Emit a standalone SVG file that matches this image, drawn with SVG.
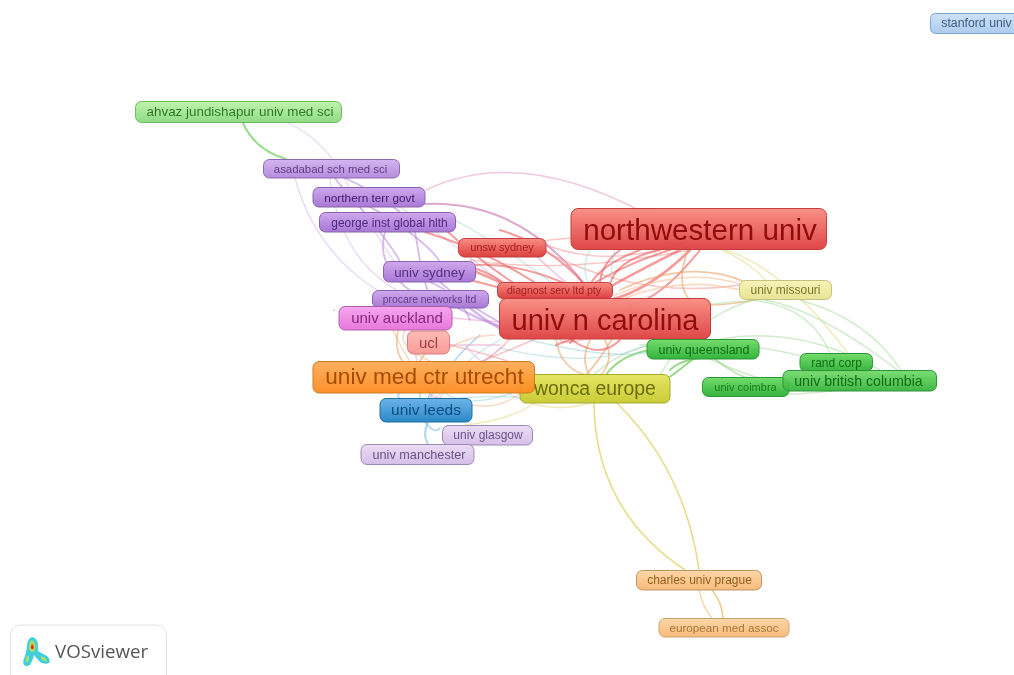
<svg xmlns="http://www.w3.org/2000/svg" width="1014" height="675" viewBox="0 0 1014 675">
<style>
.n{stroke-width:1;}
text.l{font-family:"Liberation Sans",Arial,sans-serif;text-anchor:middle;}
#edges path{fill:none;stroke-linecap:round;}
.r{stroke:#ec5a5a;stroke-opacity:.6;stroke-width:2}
.rl{stroke:#f0908c;stroke-opacity:.5;stroke-width:1.5}
.o{stroke:#eaa468;stroke-opacity:.6;stroke-width:1.7}
.ol{stroke:#f3c09a;stroke-opacity:.6;stroke-width:1.5}
.p{stroke:#b98be0;stroke-opacity:.6;stroke-width:1.7}
.pl{stroke:#d4b8ec;stroke-opacity:.55;stroke-width:1.3}
.m{stroke:#e884d0;stroke-opacity:.45;stroke-width:1.6}
.b{stroke:#7cb8ea;stroke-opacity:.6;stroke-width:1.5}
.t{stroke:#9fd4d8;stroke-opacity:.55;stroke-width:1.3}
.g{stroke:#74cc62;stroke-opacity:.75;stroke-width:1.9}
.gl{stroke:#a9dda0;stroke-opacity:.55;stroke-width:1.4}
.y{stroke:#e2d774;stroke-opacity:.85;stroke-width:1.6}
.yl{stroke:#e6e39a;stroke-opacity:.7;stroke-width:1.4}
.pk{stroke:#e79ac6;stroke-opacity:.55;stroke-width:1.6}
</style>
<defs>
<filter id="soft" x="-2%" y="-2%" width="104%" height="104%"><feGaussianBlur stdDeviation=".45"/></filter>
<linearGradient id="gr" x1="0" y1="0" x2="0" y2="1"><stop offset="0" stop-color="#f98c82"/><stop offset="1" stop-color="#dd4040"/></linearGradient>
<linearGradient id="gp" x1="0" y1="0" x2="0" y2="1"><stop offset="0" stop-color="#cfa8ee"/><stop offset="1" stop-color="#a878d6"/></linearGradient>
<linearGradient id="gpl" x1="0" y1="0" x2="0" y2="1"><stop offset="0" stop-color="#ebdcf6"/><stop offset="1" stop-color="#d5bfe8"/></linearGradient>
<linearGradient id="gm" x1="0" y1="0" x2="0" y2="1"><stop offset="0" stop-color="#f6a6f0"/><stop offset="1" stop-color="#e878dc"/></linearGradient>
<linearGradient id="gs" x1="0" y1="0" x2="0" y2="1"><stop offset="0" stop-color="#ffbcb8"/><stop offset="1" stop-color="#f89c98"/></linearGradient>
<linearGradient id="go" x1="0" y1="0" x2="0" y2="1"><stop offset="0" stop-color="#ffab55"/><stop offset="1" stop-color="#fb8a1e"/></linearGradient>
<linearGradient id="gy" x1="0" y1="0" x2="0" y2="1"><stop offset="0" stop-color="#e3e45c"/><stop offset="1" stop-color="#c7c92c"/></linearGradient>
<linearGradient id="gb" x1="0" y1="0" x2="0" y2="1"><stop offset="0" stop-color="#6cb4e8"/><stop offset="1" stop-color="#2b88c8"/></linearGradient>
<linearGradient id="gg" x1="0" y1="0" x2="0" y2="1"><stop offset="0" stop-color="#74dc6c"/><stop offset="1" stop-color="#35b43c"/></linearGradient>
<linearGradient id="ggl" x1="0" y1="0" x2="0" y2="1"><stop offset="0" stop-color="#c2f2ae"/><stop offset="1" stop-color="#8fdc84"/></linearGradient>
<linearGradient id="gkh" x1="0" y1="0" x2="0" y2="1"><stop offset="0" stop-color="#f7f4b8"/><stop offset="1" stop-color="#e8e494"/></linearGradient>
<linearGradient id="gor" x1="0" y1="0" x2="0" y2="1"><stop offset="0" stop-color="#fdd6a8"/><stop offset="1" stop-color="#f8bb7c"/></linearGradient>
<linearGradient id="gsb" x1="0" y1="0" x2="0" y2="1"><stop offset="0" stop-color="#cfe2f6"/><stop offset="1" stop-color="#acccee"/></linearGradient>
</defs>
<rect width="1014" height="675" fill="#fff"/>
<g filter="url(#soft)">
<g id="edges">
<path class="g" d="M243 123Q255 150 286 159"/>
<path class="pl" d="M288 123Q325 140 345 180Q362 215 395 262"/>
<path class="p" d="M335 178Q345 195 385 215Q430 245 440 262"/>
<path class="p" d="M345 178Q372 190 400 212"/>
<path class="pl" d="M330 178Q340 260 400 292"/>
<path class="p" d="M360 207Q395 250 400 262"/>
<path class="p" d="M385 232Q375 265 412 292"/>
<path class="p" d="M415 232Q420 260 420 262"/>
<path class="pl" d="M295 178Q320 270 415 310"/>
<path class="pl" d="M400 207Q450 240 510 290"/>
<path class="t" d="M455 220Q510 250 575 300"/>
<path class="pk" d="M426 190Q520 145 650 216"/>
<path class="r" style="stroke:#c86ca8" d="M425 204Q520 200 585 285"/>
<path class="r" d="M425 232Q500 255 560 300"/>
<path class="r" d="M448 232Q490 270 540 300"/>
<path class="r" d="M476 265Q520 262 580 290"/>
<path class="r" d="M470 280Q510 290 540 300"/>
<path class="r" style="stroke-width:2.6" d="M476 272Q510 285 530 300"/>
<path class="r" d="M474 268Q505 278 520 300"/>
<path class="pk" d="M530 250Q560 280 590 300"/>
<path class="r" d="M500 230Q550 245 585 285"/>
<path class="rl" d="M546 245Q610 270 690 240"/>
<path class="rl" d="M465 257Q560 230 640 240"/>
<path class="rl" d="M470 260Q560 275 690 250"/>
<path class="rl" d="M546 252Q640 300 740 285"/>
<path class="r" style="stroke-width:2.8" d="M690 250Q650 290 610 300"/>
<path class="r" style="stroke-width:2.6" d="M680 250Q630 275 590 298"/>
<path class="r" d="M670 250Q620 265 570 298"/>
<path class="r" d="M660 250Q615 260 610 285"/>
<path class="r" d="M640 250Q600 265 590 285"/>
<path class="r" d="M700 250Q660 300 630 305"/>
<path class="r" d="M620 250Q600 265 600 285"/>
<path class="t" d="M590 250Q580 270 590 285"/>
<path class="t" d="M615 250Q610 265 612 285"/>
<path class="o" d="M688 250Q675 285 690 300"/>
<path class="o" d="M745 282Q690 258 620 290"/>
<path class="ol" d="M745 286Q690 265 615 295"/>
<path class="o" d="M755 300Q700 310 680 300"/>
<path class="ol" d="M740 290Q680 275 620 300"/>
<path class="yl" d="M722 250Q755 265 768 284"/>
<path class="yl" d="M725 250Q790 270 860 370"/>
<path class="gl" d="M705 305Q740 300 748 302"/>
<path class="gl" d="M660 375Q690 320 752 300"/>
<path class="gl" d="M765 300Q820 310 900 372"/>
<path class="gl" d="M750 300Q810 305 830 353"/>
<path class="gl" d="M800 300Q870 320 902 372"/>
<path class="gl" d="M720 339Q800 325 880 370"/>
<path class="gl" d="M640 345Q760 335 850 372"/>
<path class="gl" d="M710 359Q800 400 860 388"/>
<path class="gl" d="M760 395Q800 395 840 390"/>
<path class="g" style="stroke-opacity:.45" d="M715 359Q740 378 750 378"/>
<path class="g" d="M694 358Q680 370 668 378"/>
<path class="g" d="M650 350Q620 355 605 376"/>
<path class="g" d="M670 370Q680 360 702 358"/>
<path class="gl" d="M655 344Q620 350 590 378"/>
<path class="t" d="M500 348Q590 370 648 345"/>
<path class="t" d="M530 340Q610 360 650 352"/>
<path class="o" d="M590 340Q580 360 590 376"/>
<path class="o" d="M605 340Q615 360 600 376"/>
<path class="o" d="M556 339Q560 370 590 376"/>
<path class="o" d="M612 339Q600 360 585 376"/>
<path class="rl" d="M560 340Q565 345 590 338"/>
<path class="r" d="M556 345L575 338L570 343"/>
<path class="r" d="M620 340Q600 360 572 340"/>
<path class="rl" d="M510 339Q480 370 470 362"/>
<path class="rl" d="M535 339Q510 350 480 362"/>
<path class="t" d="M500 340Q460 360 440 398"/>
<path class="b" d="M480 335Q450 360 430 398"/>
<path class="pl" d="M505 345Q470 370 435 398"/>
<path class="pk" d="M450 345L500 345"/>
<path class="m" d="M452 318L499 322"/>
<path class="p" style="stroke-width:2.4" d="M470 308Q485 320 499 328"/>
<path class="p" style="stroke-width:2.4" d="M458 308Q480 320 499 326"/>
<path class="p" d="M440 282Q460 300 499 322"/>
<path class="p" d="M425 282Q430 300 432 306"/>
<path class="p" d="M430 282Q460 295 470 320"/>
<path class="m" d="M412 330Q420 400 440 398"/>
<path class="ol" d="M393 330Q405 355 410 361"/>
<path class="o" d="M445 328Q430 345 420 361"/>
<path class="ol" d="M405 330Q395 345 430 361"/>
<path class="o" d="M398 330Q394 348 402 361"/>
<path class="ol" d="M445 350Q470 335 495 335"/>
<path class="rl" d="M450 345Q490 355 510 362"/>
<path class="pl" d="M465 345Q490 375 500 362"/>
<path class="b" d="M400 393Q395 396 400 398"/>
<path class="b" d="M420 393L420 398"/>
<path class="b" d="M430 393L428 398"/>
<path class="t" d="M445 393Q470 410 520 390"/>
<path class="t" d="M460 398Q500 395 530 398"/>
<path class="ol" d="M472 405Q500 410 522 392"/>
<path class="b" style="stroke-width:2" d="M428 422Q422 435 428 444"/>
<path class="b" d="M425 422Q435 435 440 428"/>
<path class="yl" d="M465 425Q510 420 533 404"/>
<path class="y" style="stroke-opacity:.5" d="M530 403Q560 412 590 403"/>
<path class="t" d="M505 390Q525 410 565 395"/>
<path class="y" d="M594 403Q595 510 685 570"/>
<path class="y" d="M617 403Q685 470 699 570"/>
<path class="ol" style="stroke:#eec47c;stroke-opacity:.9" d="M712 590Q722 602 723 618"/>
<path class="ol" style="stroke:#f2d4a8;stroke-opacity:.9" d="M699 590Q703 608 712 618"/>
</g>
<g id="stanford-univ"><rect class="n" x="930.500" y="13.500" width="95" height="20" rx="5" fill="url(#gsb)" stroke="#7fa6cf"/><text class="l" x="976.500" y="27" font-size="12.300" fill="#3a6088">stanford univ</text></g>
<g id="ahvaz"><rect class="n" x="135.500" y="101.500" width="206" height="21" rx="6" fill="url(#ggl)" stroke="#6cba60"/><text class="l" x="240" y="116" font-size="13.400" fill="#2f7a2c">ahvaz jundishapur univ med sci</text></g>
<g id="asadabad"><rect class="n" x="263.500" y="159.500" width="136" height="18.500" rx="6" fill="url(#gp)" stroke="#8d69ad" fill-opacity=".85"/><text class="l" x="330.500" y="172.500" font-size="11.400" fill="#5f3d85">asadabad sch med sci</text></g>
<g id="northern"><rect class="n" x="313" y="187.500" width="112" height="19.500" rx="6" fill="url(#gp)" stroke="#8a62ae"/><text class="l" x="369.500" y="201.500" font-size="11.800" fill="#3d1e66">northern terr govt</text></g>
<g id="george"><rect class="n" x="319.500" y="212.500" width="136" height="19.500" rx="6" fill="url(#gp)" stroke="#8a62ae"/><text class="l" x="389.500" y="226.500" font-size="11.900" fill="#4c2a78">george inst global hlth</text></g>
<g id="unsw"><rect class="n" x="458.500" y="238.500" width="87.500" height="18.500" rx="6" fill="url(#gr)" stroke="#c44040"/><text class="l" x="502" y="251" font-size="11" fill="#a82020">unsw sydney</text></g>
<g id="northwestern"><rect class="n" x="571" y="208.500" width="255.500" height="41" rx="7" fill="url(#gr)" stroke="#c23c3c" fill-opacity=".96"/><text class="l" x="700" y="240" font-size="29.600" fill="#900c0c">northwestern univ</text></g>
<g id="missouri"><rect class="n" x="739.500" y="280.500" width="92" height="19" rx="6" fill="url(#gkh)" stroke="#c4c080"/><text class="l" x="785.500" y="293.500" font-size="12" fill="#7c7a30">univ missouri</text></g>
<g id="sydney"><rect class="n" x="383.500" y="261.500" width="92" height="20.500" rx="6" fill="url(#gp)" stroke="#8a62ae"/><text class="l" x="429.500" y="276.500" font-size="13.400" fill="#50307e">univ sydney</text></g>
<g id="diagnost"><rect class="n" x="497.500" y="282.500" width="115" height="16" rx="5" fill="url(#gr)" stroke="#c44040"/><text class="l" x="554" y="294" font-size="10.600" fill="#a82020">diagnost serv ltd pty</text></g>
<g id="procare"><rect class="n" x="372.500" y="290.500" width="116" height="17.500" rx="6" fill="url(#gp)" stroke="#8a62ae"/><text class="l" x="429.500" y="303" font-size="10.400" fill="#5f3d85">procare networks ltd</text></g>
<g id="auckland"><rect class="n" x="339" y="306.500" width="113" height="23.500" rx="6" fill="url(#gm)" stroke="#b060a8"/><text class="l" x="397" y="323" font-size="15" fill="#842a7c">univ auckland</text></g>
<g id="carolina"><rect class="n" x="499.500" y="298.500" width="211" height="40.500" rx="7" fill="url(#gr)" stroke="#c23c3c" fill-opacity=".96"/><text class="l" x="605" y="330" font-size="29" fill="#900c0c">univ n carolina</text></g>
<g id="ucl"><rect class="n" x="407.500" y="331" width="42" height="23" rx="6" fill="url(#gs)" stroke="#d88080"/><text class="l" x="428.500" y="347.500" font-size="15" fill="#9c4040">ucl</text></g>
<g id="queensland"><rect class="n" x="647" y="339.500" width="112" height="19.500" rx="6" fill="url(#gg)" stroke="#2f9436"/><text class="l" x="704" y="353.500" font-size="12.500" fill="#126a18">univ queensland</text></g>
<g id="rand"><rect class="n" x="800" y="353.500" width="72.500" height="18" rx="6" fill="url(#gg)" stroke="#2f9436"/><text class="l" x="836.500" y="366.500" font-size="12" fill="#126a18">rand corp</text></g>
<g id="coimbra"><rect class="n" x="702.500" y="377.500" width="86.500" height="19" rx="6" fill="url(#gg)" stroke="#2f9436"/><text class="l" x="745.500" y="390.500" font-size="11" fill="#1a7a20">univ coimbra</text></g>
<g id="british"><rect class="n" x="783" y="370.500" width="153.500" height="20.500" rx="6" fill="url(#gg)" stroke="#2f9436" fill-opacity=".95"/><text class="l" x="858.500" y="385.500" font-size="14.200" fill="#126a18">univ british columbia</text></g>
<g id="wonca"><rect class="n" x="520" y="374.500" width="150" height="28.500" rx="6" fill="url(#gy)" stroke="#a6a830" fill-opacity=".95"/><text class="l" x="595" y="394.500" font-size="19.400" fill="#6c6c08">wonca europe</text></g>
<g id="utrecht"><rect class="n" x="313" y="361.500" width="221.500" height="31.500" rx="6" fill="url(#go)" stroke="#cf7b20" fill-opacity=".94"/><text class="l" x="424.500" y="384" font-size="22.600" fill="#a64c00">univ med ctr utrecht</text></g>
<g id="leeds"><rect class="n" x="380" y="398.500" width="92" height="23.500" rx="6" fill="url(#gb)" stroke="#206c9e"/><text class="l" x="426" y="414.500" font-size="15.500" fill="#0a4c80">univ leeds</text></g>
<g id="glasgow"><rect class="n" x="442.500" y="425.500" width="90" height="19.500" rx="6" fill="url(#gpl)" stroke="#9e88b4"/><text class="l" x="488" y="439" font-size="12" fill="#6b5488">univ glasgow</text></g>
<g id="manchester"><rect class="n" x="361" y="444.500" width="113" height="20" rx="6" fill="url(#gpl)" stroke="#9e88b4"/><text class="l" x="419" y="458.500" font-size="12.700" fill="#6b5488">univ manchester</text></g>
<g id="charles"><rect class="n" x="636.500" y="570.500" width="125" height="19.500" rx="6" fill="url(#gor)" stroke="#bf9660"/><text class="l" x="699.500" y="584" font-size="12" fill="#96601c">charles univ prague</text></g>
<g id="european"><rect class="n" x="659" y="618.500" width="130" height="18.500" rx="6" fill="url(#gor)" stroke="#c9a470"/><text class="l" x="724" y="631.500" font-size="11.700" fill="#a87838">european med assoc</text></g>
<circle cx="334" cy="310" r=".8" fill="#f0a0e0"/>
<g id="vosviewer-logo">
<rect x="10.500" y="625" width="156" height="60" rx="10" fill="#fff" stroke="#e2e2e2"/>
<path d="M32 637Q37 638 38 644Q38 649 38 651Q43 654 47 656Q51 660 49 663Q45 665 40 662Q36 658 34 655Q33 660 30 665Q26 667 24 665Q22 662 25 656Q27 650 27 645Q28 638 32 637Z" fill="#3fcfd8"/>
<path d="M32 640Q36 643 35.500 648Q35 652 32 652Q28.500 651 29 646Q29.500 641 32 640ZM27.500 655Q30 657 28.500 661Q26 664 25.500 660.500Q26 656.500 27.500 655ZM41 656Q46 658 47 661Q44 662 41 659Z" fill="#a8e070"/>
<path d="M32 642.500Q35 645 34 649Q32 651 30.500 648.500Q30.500 644.500 32 642.500Z" fill="#e8a020"/>
<path d="M32 644.500Q34 646 33.500 648.500Q32 649.500 31 648Q31 646 32 644.500Z" fill="#d8201c"/>
<text x="55" y="658" font-family="'Open Sans',sans-serif" font-size="18.700" fill="#555">VOSviewer</text>
</g>
</g>
</svg>
